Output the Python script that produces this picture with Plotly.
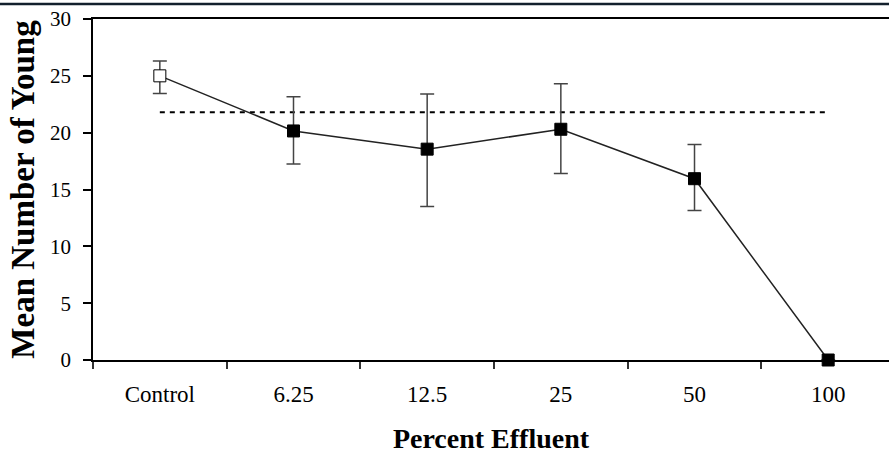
import plotly.graph_objects as go

categories = ["Control", "6.25", "12.5", "25", "50", "100"]
mean_young = [25.0, 20.15, 18.55, 20.3, 15.95, 0.0]
upper_err = [26.3, 23.15, 23.4, 24.3, 18.95, 0.0]
lower_err = [23.45, 17.25, 13.5, 16.4, 13.15, 0.0]
reference_level = 21.8
y_ticks = [0, 5, 10, 15, 20, 25, 30]

err_plus = [u - m for u, m in zip(upper_err, mean_young)]
err_minus = [m - l for m, l in zip(mean_young, lower_err)]
marker_fill = ["white"] + ["black"] * (len(categories) - 1)

fig = go.Figure()

fig.add_trace(go.Scatter(
    x=categories, y=[reference_level] * len(categories),
    mode="lines", line=dict(color="black", width=2, dash="5px,5px"),
    hoverinfo="skip", showlegend=False,
))

fig.add_trace(go.Scatter(
    x=categories, y=mean_young, mode="lines+markers",
    line=dict(color="#222222", width=1.5),
    marker=dict(symbol="square", size=12, color=marker_fill,
                line=dict(color="black", width=1)),
    error_y=dict(type="data", symmetric=False, array=err_plus,
                 arrayminus=err_minus, color="#444444", thickness=1.5, width=7),
    cliponaxis=False, showlegend=False,
))

fig.add_shape(type="line", xref="paper", yref="paper", x0=0 - 93 / 796, x1=1.0,
              y0=1.044, y1=1.044, line=dict(color="#13202c", width=2.5))

serif = "Liberation Serif, Times New Roman, serif"
fig.update_layout(
    width=889, height=454,
    margin=dict(l=93, r=0, t=19, b=94, autoexpand=False),
    paper_bgcolor="white", plot_bgcolor="white",
    font=dict(family=serif, color="black"),
    xaxis=dict(
        type="category", range=[-0.5, 5.455], automargin=False,
        tickson="boundaries", ticks="outside", ticklen=7, tickwidth=1.5,
        tickcolor="#333333",
        showline=True, linecolor="black", linewidth=1.5, mirror=True,
        showgrid=False, zeroline=False,
        tickfont=dict(family=serif, size=23, color="black"),
        ticklabelstandoff=13,
        title=dict(text="<b>Percent Effluent</b>", standoff=30,
                   font=dict(family=serif, size=28, color="black")),
    ),
    yaxis=dict(
        range=[0, 30], tickvals=y_ticks, ticks="outside", ticklen=8,
        tickwidth=1.5, tickcolor="black", automargin=False,
        showline=True, linecolor="black", linewidth=1.5, mirror=False,
        showgrid=False, zeroline=False,
        tickfont=dict(family=serif, size=21, color="black"),
        ticklabelstandoff=8,
        title=dict(text="<b>Mean Number of Young</b>", standoff=5,
                   font=dict(family=serif, size=33, color="black")),
    ),
)

fig.write_html("out.html", config={"displayModeBar": False},
               post_script="document.body.style.margin='0';document.body.style.overflow='hidden';")
